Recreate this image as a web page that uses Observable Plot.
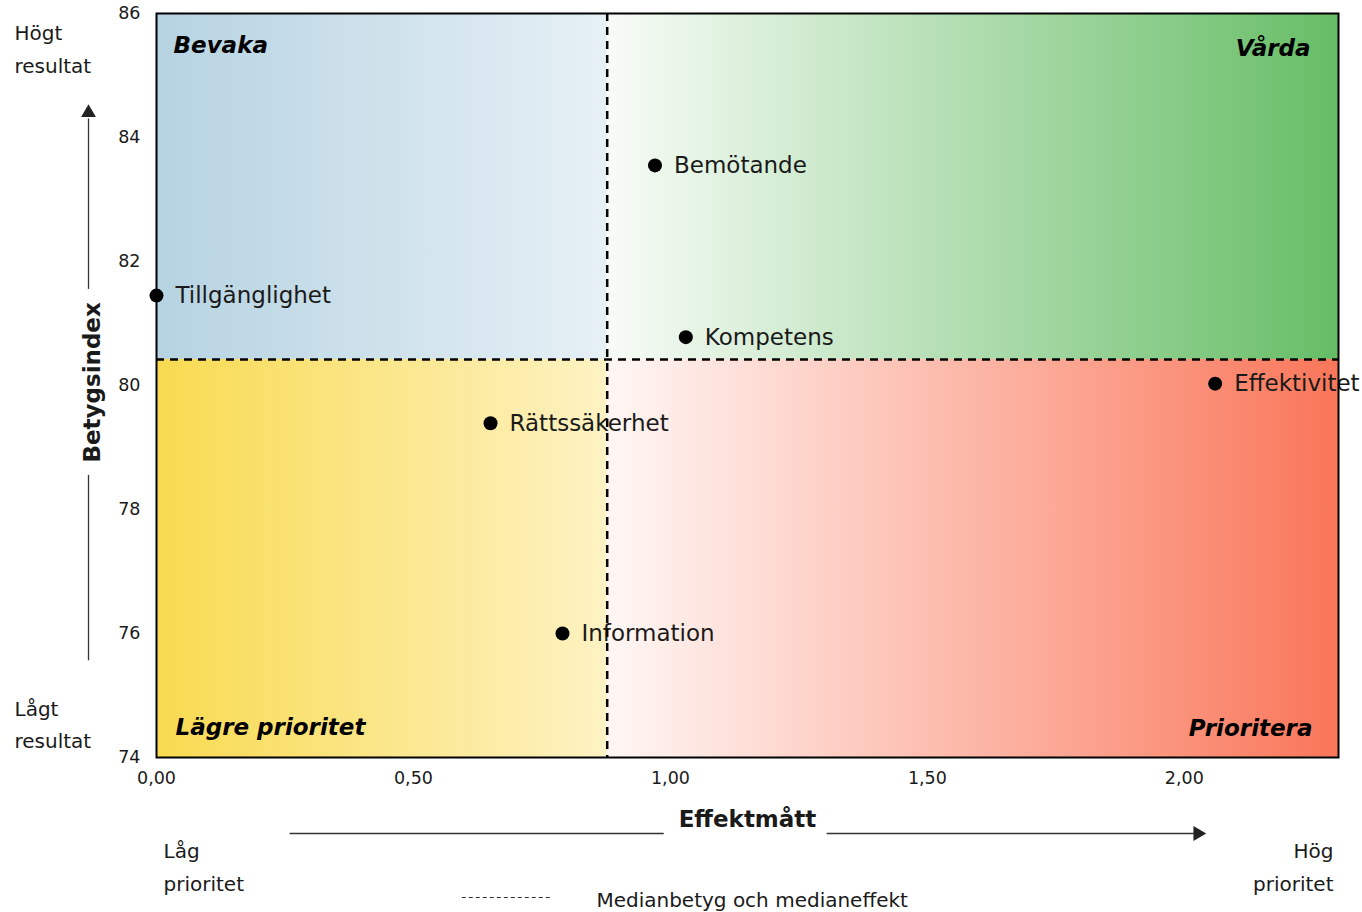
<!DOCTYPE html>
<html><head><meta charset="utf-8">
<script src="https://cdn.jsdelivr.net/npm/d3@7"></script>
<script src="https://cdn.jsdelivr.net/npm/@observablehq/plot@0.6"></script>
<style>body{margin:0;background:#fff;overflow:hidden}</style>
</head><body><div id="chart"></div>
<script>
// Data
const areas = ["Bemötande", "Tillgänglighet", "Kompetens", "Effektivitet", "Rättssäkerhet", "Information"];
const effekt = [0.97, 0.0, 1.03, 2.06, 0.65, 0.79];
const betyg = [83.55, 81.45, 80.78, 80.03, 79.39, 76.0];
const medianEffekt = 0.877;
const medianBetyg = 80.42;
const xDomain = [0, 2.3];
const yDomain = [74, 86];
const xTicks = [0, 0.5, 1, 1.5, 2];
const yTicks = [74, 76, 78, 80, 82, 84, 86];
const quadrantNames = ["Bevaka", "Vårda", "Lägre prioritet", "Prioritera"];
const quadrantColors = [
  ["#b6d3e2", "#e6f0f5"],
  ["#f8fcf7", "#66bd66"],
  ["#f8da50", "#fdf2c3"],
  ["#fff7f5", "#f97659"]
];
const axisTitles = {x: "Effektmått", y: "Betygsindex"};
const cornerTexts = ["Högt\nresultat", "Lågt\nresultat", "Låg\nprioritet", "Hög\nprioritet"];
const legendText = "Medianbetyg och medianeffekt";

const points = areas.map((a, i) => ({area: a, x: effekt[i], y: betyg[i]}));
const quads = [
  {id: "gTL", x1: xDomain[0], x2: medianEffekt, y1: medianBetyg, y2: yDomain[1]},
  {id: "gTR", x1: medianEffekt, x2: xDomain[1], y1: medianBetyg, y2: yDomain[1]},
  {id: "gBL", x1: xDomain[0], x2: medianEffekt, y1: yDomain[0], y2: medianBetyg},
  {id: "gBR", x1: medianEffekt, x2: xDomain[1], y1: yDomain[0], y2: medianBetyg}
];

const defsMark = () => {
  const svgNS = "http://www.w3.org/2000/svg";
  const g = document.createElementNS(svgNS, "defs");
  quads.forEach((q, i) => {
    const lg = document.createElementNS(svgNS, "linearGradient");
    lg.setAttribute("id", q.id);
    lg.setAttribute("x1", "0"); lg.setAttribute("x2", "1");
    lg.setAttribute("y1", "0"); lg.setAttribute("y2", "0");
    quadrantColors[i].forEach((c, j) => {
      const s = document.createElementNS(svgNS, "stop");
      s.setAttribute("offset", j === 0 ? "0" : "1");
      s.setAttribute("stop-color", c);
      lg.appendChild(s);
    });
    g.appendChild(lg);
  });
  return g;
};

const fmt = d => d3.format(".2f")(d).replace(".", ",");
const txt = {fill: "#1a1a1a"};
const qStyle = {fontSize: 23, fontWeight: "bold", fontStyle: "italic", fill: "black", lineAnchor: "middle"};

const chart = Plot.plot({
  width: 1362,
  height: 912,
  marginTop: 13,
  marginLeft: 156,
  marginRight: 24,
  marginBottom: 155,
  style: {fontFamily: "'DejaVu Sans', sans-serif", background: "#fff", color: "#1a1a1a"},
  x: {domain: xDomain},
  y: {domain: yDomain},
  marks: [
    defsMark,
    ...quads.map(q => Plot.rect([q], {x1: "x1", x2: "x2", y1: "y1", y2: "y2", fill: `url(#${q.id})`})),
    Plot.axisX({ticks: xTicks, tickFormat: fmt, tickSize: 0, tickPadding: 14, fontSize: 17.5, label: null}),
    Plot.axisY({ticks: yTicks, tickSize: 0, tickPadding: 16, fontSize: 17.5, label: null}),
    Plot.dot(points, {x: "x", y: "y", r: 7, fill: "black"}),
    Plot.text(points, {x: "x", y: "y", text: "area", dx: 19, textAnchor: "start", fontSize: 23, ...txt}),
    Plot.ruleX([medianEffekt], {stroke: "black", strokeWidth: 2.5, strokeDasharray: "8,6"}),
    Plot.ruleY([medianBetyg], {stroke: "black", strokeWidth: 2.5, strokeDasharray: "8,6"}),
    Plot.frame({stroke: "black", strokeWidth: 2}),
    // Quadrant names
    Plot.text([quadrantNames[0]], {text: d => d, frameAnchor: "top-left", dx: 17, dy: 32, textAnchor: "start", ...qStyle}),
    Plot.text([quadrantNames[1]], {text: d => d, frameAnchor: "top-right", dx: -28, dy: 35, textAnchor: "end", ...qStyle}),
    Plot.text([quadrantNames[2]], {text: d => d, frameAnchor: "bottom-left", dx: 19, dy: -30, textAnchor: "start", ...qStyle}),
    Plot.text([quadrantNames[3]], {text: d => d, frameAnchor: "bottom-right", dx: -26, dy: -29, textAnchor: "end", ...qStyle}),
    // Y direction arrow and title
    Plot.ruleX([xDomain[0]], {y1: 75.56, y2: 78.55, dx: -68, stroke: "#333", strokeWidth: 1.3}),
    Plot.ruleX([xDomain[0]], {y1: 81.55, y2: 84.3, dx: -68, stroke: "#333", strokeWidth: 1.3}),
    Plot.dot([xDomain[0]], {x: d => d, y: 84.4, dx: -68, symbol: "triangle", r: 5.5, fill: "#222"}),
    Plot.text([axisTitles.y], {text: d => d, x: xDomain[0], y: 80.05, dx: -64, rotate: -90, fontSize: 23, fontWeight: "bold", fill: "#1a1a1a"}),
    // X direction arrow and title
    Plot.ruleY([yDomain[0]], {x1: 0.26, x2: 0.988, dy: 76, stroke: "#333", strokeWidth: 1.3}),
    Plot.ruleY([yDomain[0]], {x1: 1.305, x2: 2.02, dy: 76, stroke: "#333", strokeWidth: 1.3}),
    Plot.dot([yDomain[0]], {x: 2.026, y: d => d, dy: 76, symbol: "triangle", rotate: 90, r: 5.5, fill: "#222"}),
    Plot.text([axisTitles.x], {text: d => d, x: 1.15, y: yDomain[0], dy: 62, fontSize: 23, fontWeight: "bold", fill: "#1a1a1a"}),
    // Corner texts
    Plot.text([cornerTexts[0]], {text: d => d, frameAnchor: "top-left", dx: -142, dy: 32.5, textAnchor: "start", lineAnchor: "middle", lineHeight: 1.62, fontSize: 20, ...txt}),
    Plot.text([cornerTexts[1]], {text: d => d, frameAnchor: "bottom-left", dx: -142, dy: -36, textAnchor: "start", lineAnchor: "middle", lineHeight: 1.62, fontSize: 20, ...txt}),
    Plot.text([cornerTexts[2]], {text: d => d, frameAnchor: "bottom-left", dx: 7, dy: 106.5, textAnchor: "start", lineAnchor: "middle", lineHeight: 1.62, fontSize: 20, ...txt}),
    Plot.text([cornerTexts[3]], {text: d => d, frameAnchor: "bottom-right", dx: -5, dy: 106.5, textAnchor: "end", lineAnchor: "middle", lineHeight: 1.62, fontSize: 20, ...txt}),
    // Legend
    Plot.ruleY([yDomain[0]], {x1: 0.595, x2: 0.77, dy: 140, stroke: "#333", strokeWidth: 1.2, strokeDasharray: "4,3"}),
    Plot.text([legendText], {text: d => d, x: 0.856, y: yDomain[0], dy: 143, textAnchor: "start", fontSize: 20, ...txt})
  ]
});
document.getElementById("chart").appendChild(chart);
</script>
</body></html>
